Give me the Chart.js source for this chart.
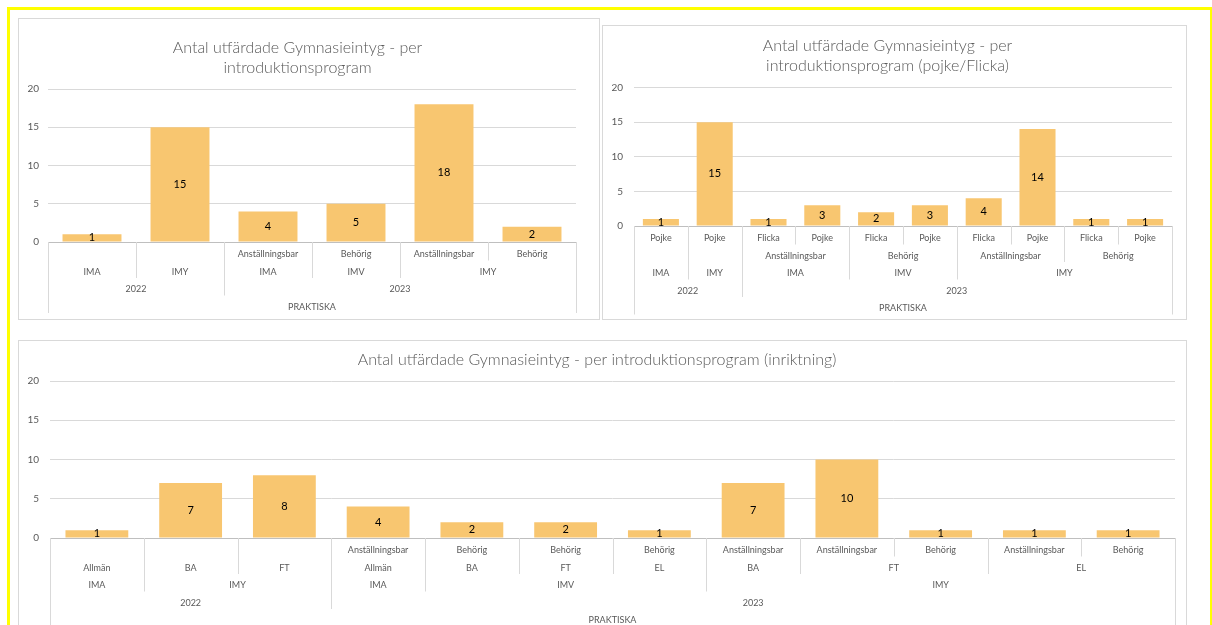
<!DOCTYPE html>
<html>
<head>
<meta charset="utf-8">
<script src="https://cdn.jsdelivr.net/npm/chart.js@4/dist/chart.umd.min.js"></script>
<style>
    html, body { margin: 0; padding: 0; background: #fff; overflow: hidden; }
    body { width: 1212px; height: 625px; position: relative; }
    .frame { position: absolute; left: 7px; top: 7px; width: 1200px; height: 660px; border: 3px solid #ffff00; }
    .panel { position: absolute; border: 1px solid #d9d9d9; background: #fff; }
    .panel canvas { display: block; }
</style>
</head>
<body>
<div class="frame"></div>
<div class="panel" style="left:18px; top:18px; width:580px; height:300px;"><canvas id="chartLeft" width="578" height="298"></canvas></div>
<div class="panel" style="left:602px; top:25px; width:583px; height:293px;"><canvas id="chartRight" width="581" height="291"></canvas></div>
<div class="panel" style="left:18px; top:340px; width:1167px; height:300px;"><canvas id="chartBottom" width="1165" height="298"></canvas></div>
<script>
'use strict';

// top left: per introduktionsprogram
const leftTitle = ['Antal utfärdade Gymnasieintyg - per', 'introduktionsprogram'];
const leftGroup = ['PRAKTISKA', 'PRAKTISKA', 'PRAKTISKA', 'PRAKTISKA', 'PRAKTISKA', 'PRAKTISKA'];
const leftYear = ['2022', '2022', '2023', '2023', '2023', '2023'];
const leftProgram = ['IMA', 'IMY', 'IMA', 'IMV', 'IMY', 'IMY'];
const leftOutcome = ['', '', 'Anställningsbar', 'Behörig', 'Anställningsbar', 'Behörig'];
const leftValues = [1, 15, 4, 5, 18, 2];

// top right: pojke/flicka
const rightTitle = ['Antal utfärdade Gymnasieintyg - per', 'introduktionsprogram (pojke/Flicka)'];
const rightGroup = ['PRAKTISKA', 'PRAKTISKA', 'PRAKTISKA', 'PRAKTISKA', 'PRAKTISKA', 'PRAKTISKA', 'PRAKTISKA', 'PRAKTISKA', 'PRAKTISKA', 'PRAKTISKA'];
const rightYear = ['2022', '2022', '2023', '2023', '2023', '2023', '2023', '2023', '2023', '2023'];
const rightProgram = ['IMA', 'IMY', 'IMA', 'IMA', 'IMV', 'IMV', 'IMY', 'IMY', 'IMY', 'IMY'];
const rightOutcome = ['', '', 'Anställningsbar', 'Anställningsbar', 'Behörig', 'Behörig', 'Anställningsbar', 'Anställningsbar', 'Behörig', 'Behörig'];
const rightGender = ['Pojke', 'Pojke', 'Flicka', 'Pojke', 'Flicka', 'Pojke', 'Flicka', 'Pojke', 'Flicka', 'Pojke'];
const rightValues = [1, 15, 1, 3, 2, 3, 4, 14, 1, 1];

// bottom: inriktning
const bottomTitle = 'Antal utfärdade Gymnasieintyg - per introduktionsprogram (inriktning)';
const bottomGroup = ['PRAKTISKA', 'PRAKTISKA', 'PRAKTISKA', 'PRAKTISKA', 'PRAKTISKA', 'PRAKTISKA', 'PRAKTISKA', 'PRAKTISKA', 'PRAKTISKA', 'PRAKTISKA', 'PRAKTISKA', 'PRAKTISKA'];
const bottomYear = ['2022', '2022', '2022', '2023', '2023', '2023', '2023', '2023', '2023', '2023', '2023', '2023'];
const bottomProgram = ['IMA', 'IMY', 'IMY', 'IMA', 'IMV', 'IMV', 'IMV', 'IMY', 'IMY', 'IMY', 'IMY', 'IMY'];
const bottomField = ['Allmän', 'BA', 'FT', 'Allmän', 'BA', 'FT', 'EL', 'BA', 'FT', 'FT', 'EL', 'EL'];
const bottomOutcome = ['', '', '', 'Anställningsbar', 'Behörig', 'Behörig', 'Behörig', 'Anställningsbar', 'Anställningsbar', 'Behörig', 'Anställningsbar', 'Behörig'];
const bottomValues = [1, 7, 8, 4, 2, 2, 1, 7, 10, 1, 1, 1];

const yTicks = [0, 5, 10, 15, 20];

const barColor = '#f8c670';
const gridColor = '#d9d9d9';
const textColor = '#595959';
const fontFamily = 'Lato, "Open Sans", sans-serif';

// excel style multi level category axis, drawn below the plot
const hierAxis = {
    id: 'hierAxis',
    afterDraw(chart, args, opts) {
        const levels = opts.levels;
        if (!levels) {
            return
        }
        const ctx = chart.ctx;
        const x = chart.scales.x;
        const area = chart.chartArea;
        const n = levels.length;
        const count = levels[0].length;
        const half = (x.getPixelForValue(1) - x.getPixelForValue(0)) / 2;
        const edge = i => x.getPixelForValue(i) - half;
        const rowBottom = r => area.bottom + (r + 1) * opts.rowH + 1;
        const diffLevel = i => {
            for (let k = 0; k < n; k++) {
                if (levels[k][i] !== levels[k][i - 1]) return k;
            }
            return n - 1;
        };
        const samePrefix = (i, j, k) => {
            for (let m = 0; m <= k; m++) {
                if (levels[m][i] !== levels[m][j]) return false;
            }
            return true;
        };

        ctx.save();
        ctx.strokeStyle = gridColor;
        ctx.lineWidth = 1;
        ctx.beginPath();
        [0, count].forEach(i => {
            const px = Math.round(edge(i)) + 0.5;
            ctx.moveTo(px, area.bottom);
            ctx.lineTo(px, rowBottom(n - 1));
        });
        for (let i = 1; i < count; i++) {
            const k = diffLevel(i);
            const px = Math.round(edge(i)) + 0.5;
            ctx.moveTo(px, area.bottom);
            ctx.lineTo(px, rowBottom(n - 1 - k));
        }
        ctx.stroke();

        ctx.fillStyle = textColor;
        ctx.font = opts.font;
        ctx.textAlign = 'center';
        ctx.textBaseline = 'middle';
        for (let k = 0; k < n; k++) {
            const r = n - 1 - k;
            let start = 0;
            for (let i = 1; i <= count; i++) {
                if (i === count || !samePrefix(i, start, k)) {
                    const label = levels[k][start];
                    if (label) {
                        const cx = (edge(start) + edge(i)) / 2;
                        ctx.fillText(label, cx, area.bottom + opts.rowTop + r * opts.rowH);
                    }
                    start = i;
                }
            }
        }
        ctx.restore();
    }
};

// value in the middle of each bar
const barValues = {
    id: 'barValues',
    afterDatasetsDraw(chart) {
        const ctx = chart.ctx;
        const meta = chart.getDatasetMeta(0);
        const values = chart.data.datasets[0].data;
        ctx.save();
        ctx.fillStyle = '#000';
        ctx.font = '11px ' + fontFamily;
        ctx.textAlign = 'center';
        ctx.textBaseline = 'middle';
        meta.data.forEach((bar, i) => {
            ctx.fillText(String(values[i]), bar.x, (bar.y + bar.base) / 2);
        });
        ctx.restore();
    }
};

function makeChart(id, cfg) {
    return new Chart(document.getElementById(id), {
        type: 'bar',
        data: {
            labels: cfg.levels[cfg.levels.length - 1],
            datasets: [{
                data: cfg.values,
                backgroundColor: barColor,
                borderWidth: 0,
                barPercentage: 0.67,
                categoryPercentage: 1
            }]
        },
        options: {
            responsive: false,
            animation: false,
            devicePixelRatio: 1,
            layout: { padding: cfg.padding },
            plugins: {
                legend: { display: false },
                tooltip: { enabled: false },
                title: {
                    display: true,
                    text: cfg.title,
                    color: textColor,
                    font: { family: fontFamily, size: 16, weight: 300, lineHeight: cfg.titleLine },
                    padding: cfg.titlePadding
                },
                hierAxis: {
                    levels: cfg.levels,
                    rowTop: 12.5,
                    rowH: 17.5,
                    font: '9px ' + fontFamily
                }
            },
            scales: {
                x: { display: false },
                y: {
                    min: 0,
                    max: 20,
                    afterBuildTicks: scale => { scale.ticks = yTicks.map(v => ({ value: v })); },
                    afterFit: scale => { scale.width = cfg.yWidth; },
                    border: { display: false },
                    grid: {
                        drawTicks: false,
                        color: c => c.tick && c.tick.value === 0 ? '#bfbfbf' : gridColor
                    },
                    ticks: {
                        color: textColor,
                        padding: cfg.tickPad,
                        font: { family: fontFamily, size: 10 }
                    }
                }
            }
        },
        plugins: [hierAxis, barValues]
    });
}

makeChart('chartLeft', {
    title: leftTitle,
    levels: [leftGroup, leftYear, leftProgram, leftOutcome],
    values: leftValues,
    padding: { top: 0, left: 0, right: 21, bottom: 75 },
    titleLine: 1.25,
    titlePadding: { top: 19, bottom: 11 },
    yWidth: 29,
    tickPad: 9
});

makeChart('chartRight', {
    title: rightTitle,
    levels: [rightGroup, rightYear, rightProgram, rightOutcome, rightGender],
    values: rightValues,
    padding: { top: 0, left: 0, right: 12, bottom: 91 },
    titleLine: 1.3,
    titlePadding: { top: 9, bottom: 11 },
    yWidth: 31,
    tickPad: 11
});

makeChart('chartBottom', {
    title: bottomTitle,
    levels: [bottomGroup, bottomYear, bottomProgram, bottomField, bottomOutcome],
    values: bottomValues,
    padding: { top: 0, left: 0, right: 9, bottom: 101 },
    titleLine: 1.25,
    titlePadding: { top: 9, bottom: 11 },
    yWidth: 31,
    tickPad: 11
});
</script>
</body>
</html>
